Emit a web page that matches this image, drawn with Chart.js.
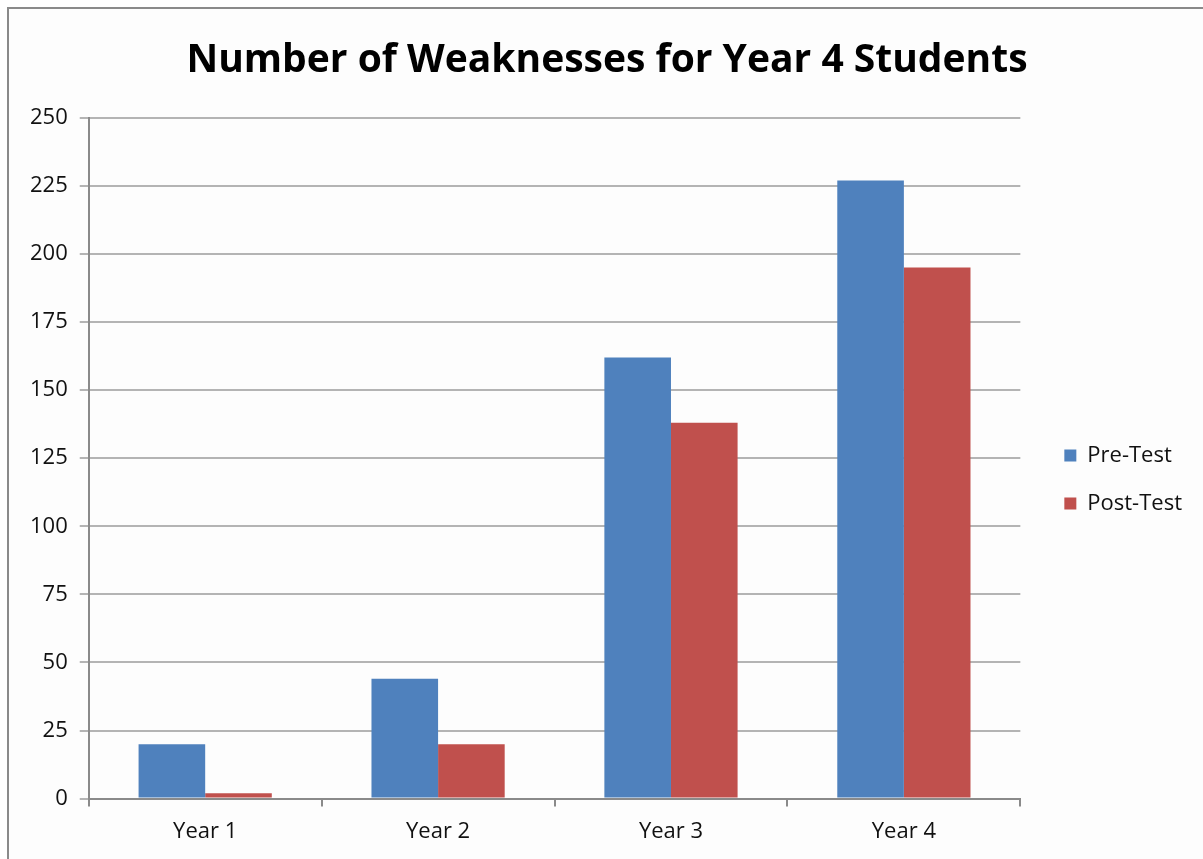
<!DOCTYPE html>
<html>
<head>
<meta charset="utf-8">
<title>Number of Weaknesses for Year 4 Students</title>
<script src="https://cdn.jsdelivr.net/npm/chart.js@4"></script>
<style>
  html, body { margin: 0; padding: 0; background: #fff; overflow: hidden; }
  #wrap { position: relative; width: 1203px; height: 859px; }
  #frame { position: absolute; left: 7px; top: 7px; width: 1240px; height: 900px; border: 2px solid #8a8a8a; background: #fdfdfd; }
  #myChart { position: absolute; left: 0; top: 0; }
</style>
</head>
<body>
<div id="wrap">
  <div id="frame"></div>
  <canvas id="myChart" width="1203" height="859"></canvas>
</div>
<script>
/** data **/
const labels = ['Year 1', 'Year 2', 'Year 3', 'Year 4'];
const preTest = [20, 44, 162, 227];
const postTest = [2, 20, 138, 195];
const seriesNames = ['Pre-Test', 'Post-Test'];
const yTicks = [0, 25, 50, 75, 100, 125, 150, 175, 200, 225, 250];

const font = "'Open Sans', sans-serif";

// nudge the legend right/down and the title a bit right
const boxOffsets = {
  id: 'boxOffsets',
  afterLayout(chart) {
    const lg = chart.legend;
    lg.left += 18; lg.right += 18;
    lg.top += 46; lg.bottom += 46;
    const t = chart.titleBlock;
    t.left += 11; t.right += 11;
  }
};

const data = {
  labels: labels,
  datasets: [
    {
      label: seriesNames[0],
      data: preTest,
      backgroundColor: '#4f81bd',
      borderWidth: 0
    },
    {
      label: seriesNames[1],
      data: postTest,
      backgroundColor: '#c0504d',
      borderWidth: 0
    }
  ]
};

const config = {
  type: 'bar',
  data,
  plugins: [boxOffsets],
  options: {
    responsive: false,
    animation: false,
    layout: {
      padding: { left: 18, right: 29, top: 10, bottom: 2 }
    },
    datasets: {
      bar: { categoryPercentage: 0.572, barPercentage: 1 }
    },
    plugins: {
      title: {
        display: true,
        text: 'Number of Weaknesses for Year 4 Students',
        color: '#000',
        font: { family: font, size: 39, weight: 'bold' },
        padding: { top: 27, bottom: 34 }
      },
      legend: {
        position: 'right',
        labels: {
          color: '#111',
          font: { family: font, size: 22 },
          boxWidth: 12,
          boxHeight: 12,
          padding: 26
        }
      },
      tooltip: { enabled: false }
    },
    scales: {
      x: {
        grid: {
          offset: true,
          drawOnChartArea: false,
          drawTicks: true,
          tickLength: 8,
          color: '#8a8a8a',
          lineWidth: 2
        },
        border: { color: '#8a8a8a', width: 2 },
        ticks: {
          color: '#111',
          font: { family: font, size: 22 },
          padding: 12
        }
      },
      y: {
        min: 0,
        max: 250,
        afterBuildTicks: axis => {
          axis.ticks = yTicks.map(v => ({ value: v }));
        },
        grid: {
          color: '#b4b4b4',
          lineWidth: 2,
          tickLength: 9
        },
        border: { color: '#8a8a8a', width: 2 },
        ticks: {
          color: '#111',
          font: { family: font, size: 22 },
          padding: 12
        }
      }
    }
  }
};

var myChart = new Chart(document.getElementById('myChart'), config);
</script>
</body>
</html>
